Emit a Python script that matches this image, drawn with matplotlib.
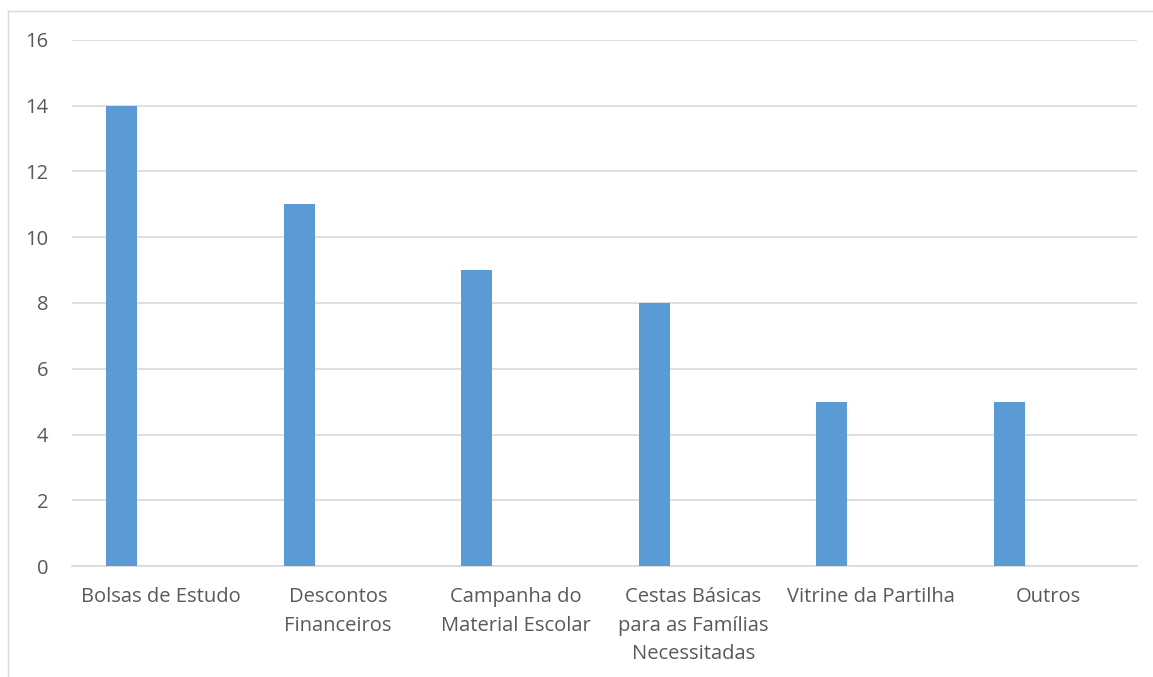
import matplotlib.pyplot as plt
from matplotlib.lines import Line2D
import numpy as np

# Chart data
categories = ['Bolsas de Estudo', 'Descontos\nFinanceiros', 'Campanha do\nMaterial Escolar',
              'Cestas Básicas\npara as Famílias\nNecessitadas', 'Vitrine da Partilha', 'Outros']
values = [14, 11, 9, 8, 5, 5]
y_ticks = [0, 2, 4, 6, 8, 10, 12, 14, 16]

plt.rcParams['font.family'] = ['Open Sans', 'DejaVu Sans']
text_col = '#595959'
grid_col = '#d9d9d9'

fig = plt.figure(figsize=(11.53, 6.77), dpi=100)
ax = fig.add_axes([72 / 1153, 1 - 566 / 677, (1137 - 72) / 1153, (566 - 40) / 677])

x = np.arange(len(categories))
ax.bar(x - 0.22, values, width=0.175, color='#5b9bd5', zorder=3)

ax.set_xlim(-0.5, len(categories) - 0.5)
ax.set_ylim(0, 16)
ax.set_yticks(y_ticks)
ax.set_xticks(x)
ax.set_xticklabels(categories, fontsize=14.5, color=text_col, linespacing=1.58)
ax.tick_params(axis='y', length=0, pad=17, labelsize=14.5, labelcolor=text_col)
ax.tick_params(axis='x', length=0, pad=15)
ax.yaxis.grid(True, color=grid_col, linewidth=1.2, zorder=0)
for s in ['top', 'right', 'left']:
    ax.spines[s].set_visible(False)
ax.spines['bottom'].set_color(grid_col)
ax.spines['bottom'].set_linewidth(1.2)

# outer chart border, partly cropped
fig.add_artist(Line2D([8 / 1153, 8 / 1153], [0, 1 - 11 / 677], color=grid_col, linewidth=1, transform=fig.transFigure))
fig.add_artist(Line2D([8 / 1153, 1], [1 - 11 / 677, 1 - 11 / 677], color=grid_col, linewidth=1, transform=fig.transFigure))

fig.savefig('out.png', dpi=100)
